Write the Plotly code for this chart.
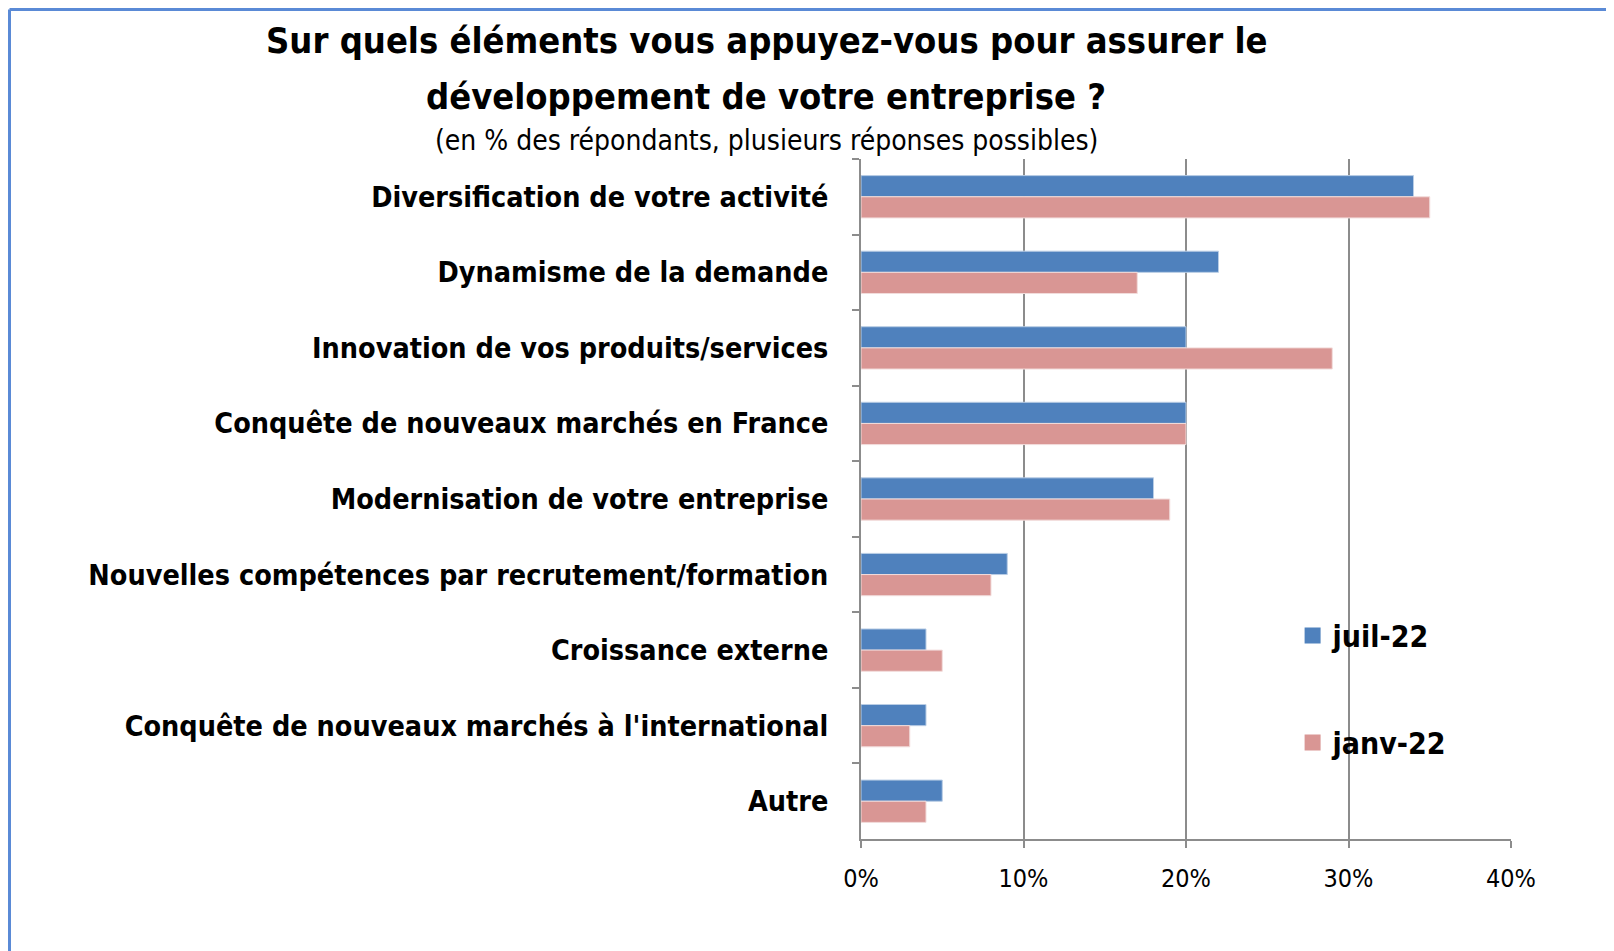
import plotly.graph_objects as go

# données (en % des répondants)
categories = [
    "Diversification de votre activité",
    "Dynamisme de la demande",
    "Innovation de vos produits/services",
    "Conquête de nouveaux marchés en France",
    "Modernisation de votre entreprise",
    "Nouvelles compétences par recrutement/formation",
    "Croissance externe",
    "Conquête de nouveaux marchés à l'international",
    "Autre",
]
juil_22 = [34, 22, 20, 20, 18, 9, 4, 4, 5]
janv_22 = [35, 17, 29, 20, 19, 8, 5, 3, 4]

x_ticks = [0, 10, 20, 30, 40]
x_tick_labels = ["0%", "10%", "20%", "30%", "40%"]

W, H = 1614, 951
OFF = 8  # marge du <body> dans la page
ML, MR, MT, MB = 853, 111, 151, 120
PW, PH = W - ML - MR, H - MT - MB

FONT = "DejaVu Sans Condensed, Liberation Sans Narrow, Open Sans, sans-serif"
GRID = "#8c8c8c"
BLUE, PINK = "#4f81bd", "#d99694"


def px_x(p):
    # position horizontale dans la page -> coordonnée paper
    return (p - OFF - ML) / PW


def px_y(p):
    # position verticale dans la page -> coordonnée paper
    return (H - MB - (p - OFF)) / PH


fig = go.Figure()
fig.add_trace(go.Bar(y=categories, x=juil_22, name="juil-22", orientation="h",
                     marker=dict(color=BLUE, line=dict(color="#b9cde5", width=1)),
                     showlegend=False))
fig.add_trace(go.Bar(y=categories, x=janv_22, name="janv-22", orientation="h",
                     marker=dict(color=PINK, line=dict(color="#f2dcdb", width=1)),
                     showlegend=False))
# légende avec des carrés plus grands
fig.add_trace(go.Scatter(x=[None], y=[None], mode="markers", name="juil-22",
                         marker=dict(symbol="square", size=16, color=BLUE), legendgroup="a"))
fig.add_trace(go.Scatter(x=[None], y=[None], mode="markers", name="janv-22",
                         marker=dict(symbol="square", size=16, color=PINK), legendgroup="b"))

fig.update_layout(
    width=W, height=H,
    margin=dict(l=ML, r=MR, t=MT, b=MB),
    plot_bgcolor="white", paper_bgcolor="white",
    barmode="group", bargap=0.44, bargroupgap=0,
    font=dict(family=FONT, color="black"),
    showlegend=True,
    legend=dict(x=0.664, y=0.3376, xanchor="left", yanchor="top",
                font=dict(size=30, family=FONT, weight="bold"),
                tracegroupgap=65, itemwidth=30, bgcolor="rgba(0,0,0,0)"),
)

fig.update_xaxes(range=[0, 40], tickvals=x_ticks, ticktext=x_tick_labels,
                 showgrid=True, gridcolor=GRID, gridwidth=2,
                 showline=True, linecolor=GRID, linewidth=2,
                 ticks="outside", ticklen=7, tickwidth=2, tickcolor=GRID,
                 tickfont=dict(size=25, family=FONT), zeroline=False,
                 ticklabelstandoff=9, automargin=False)
fig.update_yaxes(autorange="reversed", showgrid=False,
                 showline=True, linecolor=GRID, linewidth=2,
                 ticks="outside", tickson="boundaries", ticklen=7, tickwidth=2, tickcolor=GRID,
                 tickfont=dict(size=28.5, family=FONT, weight="bold"),
                 ticklabelstandoff=25, automargin=False)

cx = px_x(766)
fig.add_annotation(text="<b>Sur quels éléments vous appuyez-vous pour assurer le</b>",
                   x=cx, y=px_y(41), xref="paper", yref="paper", showarrow=False,
                   font=dict(size=36), xanchor="center", yanchor="middle")
fig.add_annotation(text="<b>développement de votre entreprise ?</b>",
                   x=cx, y=px_y(96), xref="paper", yref="paper", showarrow=False,
                   font=dict(size=36), xanchor="center", yanchor="middle")
fig.add_annotation(text="(en % des répondants, plusieurs réponses possibles)",
                   x=cx, y=px_y(140), xref="paper", yref="paper", showarrow=False,
                   font=dict(size=28), xanchor="center", yanchor="middle")

# cadre bleu (haut et gauche)
border = dict(color="#5a8ad6", width=3)
fig.add_shape(type="line", xref="paper", yref="paper", x0=px_x(OFF + 1.5), x1=px_x(W + 20),
              y0=px_y(OFF + 1.5), y1=px_y(OFF + 1.5), line=border)
fig.add_shape(type="line", xref="paper", yref="paper", x0=px_x(OFF + 1.5), x1=px_x(OFF + 1.5),
              y0=px_y(OFF + 1.5), y1=px_y(H + 20), line=border)

fig.write_html("out.html")
